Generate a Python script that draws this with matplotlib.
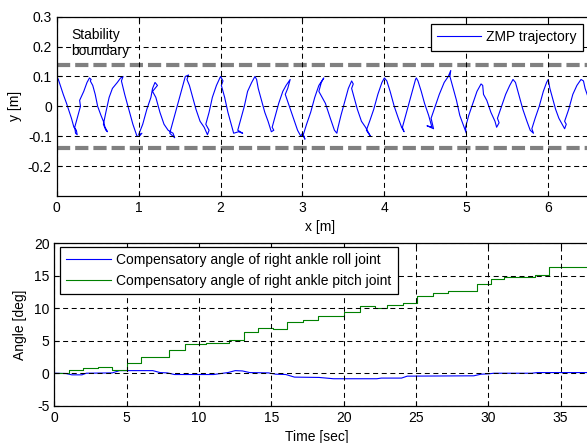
import matplotlib
matplotlib.use("Agg")
import matplotlib.pyplot as plt

plt.rcParams['font.family'] = ['Liberation Sans', 'DejaVu Sans']
plt.rcParams['font.size'] = 10
plt.rcParams['axes.unicode_minus'] = False
plt.rcParams['lines.scale_dashes'] = False

# ZMP trajectory (x [m], y [m])
zmp_x = [0.00, 0.00, 0.02, 0.08, 0.12, 0.18, 0.21, 0.24, 0.25, 0.23, 0.22, 0.26, 0.29, 0.28, 0.33, 0.37,
         0.40, 0.42, 0.41, 0.44, 0.47, 0.50, 0.54, 0.57, 0.59, 0.62, 0.60, 0.57, 0.60, 0.64, 0.68, 0.74,
         0.78, 0.81, 0.79, 0.83, 0.88, 0.93, 0.98, 1.01, 1.04, 1.00, 1.05, 1.10, 1.15, 1.17, 1.20, 1.23,
         1.17, 1.21, 1.26, 1.31, 1.36, 1.42, 1.44, 1.38, 1.41, 1.45, 1.50, 1.54, 1.57, 1.61, 1.59, 1.62,
         1.66, 1.70, 1.75, 1.80, 1.84, 1.86, 1.82, 1.86, 1.90, 1.95, 2.00, 2.03, 2.01, 2.05, 2.09, 2.13,
         2.16, 2.22, 2.27, 2.21, 2.24, 2.29, 2.33, 2.38, 2.42, 2.44, 2.46, 2.50, 2.54, 2.58, 2.62, 2.65,
         2.63, 2.67, 2.71, 2.76, 2.80, 2.85, 2.82, 2.79, 2.84, 2.89, 2.94, 2.98, 3.00, 3.03, 3.01, 3.05,
         3.10, 3.15, 3.20, 3.26, 3.23, 3.20, 3.28, 3.34, 3.39, 3.42, 3.43, 3.47, 3.52, 3.56, 3.60, 3.62,
         3.60, 3.63, 3.67, 3.72, 3.77, 3.80, 3.83, 3.78, 3.82, 3.87, 3.92, 3.97, 4.00, 4.03, 4.07, 4.12,
         4.17, 4.21, 4.24, 4.22, 4.26, 4.30, 4.34, 4.38, 4.39, 4.41, 4.45, 4.49, 4.54, 4.58, 4.52, 4.60,
         4.57, 4.62, 4.67, 4.73, 4.78, 4.81, 4.80, 4.84, 4.88, 4.92, 4.96, 5.00, 4.99, 5.03, 5.08, 5.13,
         5.18, 5.20, 5.21, 5.25, 5.30, 5.35, 5.37, 5.40, 5.38, 5.43, 5.48, 5.53, 5.57, 5.60, 5.64, 5.69,
         5.74, 5.78, 5.82, 5.80, 5.84, 5.89, 5.94, 5.98, 6.00, 6.02, 6.05, 6.09, 6.13, 6.17, 6.20, 6.22,
         6.20, 6.25, 6.30, 6.35, 6.40, 6.43, 6.45, 6.50, 6.55]
zmp_y = [-0.04, 0.10, 0.09, 0.04, 0.01, -0.04, -0.07, -0.08, -0.095, -0.09, -0.07, -0.03, 0.00, 0.02, 0.05, 0.08,
         0.095, 0.09, 0.085, 0.07, 0.04, 0.00, -0.03, -0.05, -0.07, -0.085, -0.08, -0.06, -0.02, 0.03, 0.06, 0.08,
         0.095, 0.10, 0.085, 0.04, -0.01, -0.06, -0.10, -0.10, -0.09, -0.095, -0.06, -0.01, 0.03, 0.06, 0.08, 0.07,
         0.05, 0.03, -0.02, -0.06, -0.08, -0.09, -0.105, -0.09, -0.06, -0.02, 0.03, 0.07, 0.10, 0.105, 0.09, 0.07,
         0.03, -0.01, -0.05, -0.07, -0.095, -0.08, -0.06, -0.02, 0.03, 0.07, 0.10, 0.085, 0.07, 0.03, -0.02, -0.06,
         -0.09, -0.085, -0.09, -0.08, -0.05, 0.00, 0.05, 0.08, 0.10, 0.09, 0.06, 0.02, -0.02, -0.05, -0.085, -0.08,
         -0.07, -0.03, 0.01, 0.05, 0.07, 0.09, 0.06, 0.04, 0.00, -0.04, -0.08, -0.10, -0.09, -0.11, -0.095, -0.06,
         -0.02, 0.03, 0.07, 0.095, 0.08, 0.05, 0.01, -0.04, -0.08, -0.09, -0.075, -0.03, 0.02, 0.06, 0.085, 0.075,
         0.06, 0.03, -0.01, -0.05, -0.07, -0.085, -0.10, -0.08, -0.05, -0.01, 0.04, 0.08, 0.095, 0.085, 0.05, 0.00,
         -0.04, -0.07, -0.085, -0.07, -0.03, 0.01, 0.05, 0.09, 0.095, 0.085, 0.05, 0.01, -0.03, -0.07, -0.065, -0.075,
         -0.04, 0.00, 0.04, 0.08, 0.10, 0.12, 0.10, 0.06, 0.02, -0.03, -0.06, -0.09, -0.07, -0.03, 0.01, 0.05,
         0.075, 0.07, 0.04, 0.02, -0.02, -0.05, -0.07, -0.055, -0.04, 0.00, 0.04, 0.07, 0.09, 0.08, 0.04, -0.01,
         -0.05, -0.08, -0.09, -0.075, -0.04, 0.00, 0.05, 0.08, 0.09, 0.06, 0.03, -0.01, -0.04, -0.06, -0.075, -0.06,
         -0.05, -0.01, 0.04, 0.07, 0.09, 0.085, 0.06, 0.02, -0.02]

boundary_upper = 0.137
boundary_lower = -0.14

# compensatory angles [deg] vs time [sec]
roll_t = [0, 0.8, 1.2, 1.9, 2.2, 4.0, 4.5, 6.8, 7.3, 7.8, 8.3, 11.0, 11.5, 12.0, 12.5, 13.0, 13.5,
          14.8, 15.3, 16.0, 16.6, 18.3, 19.3, 22.3, 22.6, 24.0, 24.4, 29.0, 29.5, 30.0, 30.4, 33.0, 33.4, 38]
roll_deg = [0.0, -0.05, -0.25, -0.25, 0.0, 0.05, 0.4, 0.4, 0.1, 0.05, -0.2, -0.2, -0.05, 0.1, 0.4, 0.35, 0.1,
            0.05, -0.15, -0.2, -0.6, -0.65, -0.85, -0.85, -0.75, -0.75, -0.45, -0.4, -0.15, -0.1, 0.0, 0.0, 0.1, 0.1]

pitch_t = [0, 1.0, 2.0, 3.0, 4.0, 5.0, 6.0, 7.9, 9.0, 10.5, 12.1, 13.1, 14.1, 15.1, 16.1, 17.2, 18.2,
           20.0, 21.1, 22.2, 23.0, 24.1, 25.1, 26.2, 27.2, 29.2, 30.2, 31.1, 33.2, 34.2, 38]
pitch_deg = [0.0, 0.5, 0.75, 0.95, 0.55, 1.6, 2.5, 3.5, 4.5, 4.6, 5.1, 6.3, 6.9, 6.75, 7.9, 8.2, 8.8,
             9.4, 10.4, 10.1, 10.5, 10.8, 11.9, 12.4, 12.6, 13.8, 14.5, 14.8, 15.1, 16.3, 16.3]

grid_dash = (0, (3.6, 2.6))

fig = plt.figure(figsize=(5.87, 4.43), dpi=100)

# --- ZMP plot ---
ax1 = fig.add_axes([0.0966, 0.5576, 0.9211, 0.4047])
ax1.plot(zmp_x, zmp_y, color='#0000ff', lw=0.8, label='ZMP trajectory')
for yb in (boundary_upper, boundary_lower):
    ax1.axhline(yb, color='#808080', lw=3.0, linestyle=(0, (9.5, 3.6)), zorder=1)
ax1.set_xlim(0, 6.6)
ax1.set_ylim(-0.3, 0.3)
ax1.set_xticks(range(7))
ax1.set_yticks([-0.2, -0.1, 0, 0.1, 0.2, 0.3])
ax1.set_yticklabels(['-0.2', '-0.1', '0', '0.1', '0.2', '0.3'])
ax1.grid(True, color='black', lw=0.75, linestyle=grid_dash)
ax1.set_xlabel('x [m]')
ax1.set_ylabel('y [m]')
ax1.xaxis.label.set_x(0.487)
ax1.text(0.18, 0.212, 'Stability\nboundary', va='center', ha='left', linespacing=1.15)
leg1 = ax1.legend(loc='upper right', bbox_to_anchor=(583 / 587, 1 - 24 / 443),
                  bbox_transform=fig.transFigure, borderaxespad=0, fancybox=False,
                  edgecolor='black', framealpha=1, handlelength=3.15, handletextpad=0.4,
                  borderpad=0.45)
leg1.get_frame().set_linewidth(0.9)

# --- joint angle plot ---
ax2 = fig.add_axes([0.0928, 0.0842, 0.936, 0.3666])
ax2.plot(roll_t, roll_deg, color='#0000ff', lw=0.8,
         label='Compensatory angle of right ankle roll joint')
ax2.plot(pitch_t, pitch_deg, color='#008000', lw=0.8, drawstyle='steps-post',
         label='Compensatory angle of right ankle pitch joint')
ax2.set_xlim(0, 38)
ax2.set_ylim(-5, 20)
ax2.set_xticks(range(0, 40, 5))
ax2.set_yticks(range(-5, 25, 5))
ax2.grid(True, color='black', lw=0.75, linestyle=grid_dash)
ax2.set_xlabel('Time [sec]')
ax2.set_ylabel('Angle [deg]', labelpad=5)
ax2.xaxis.label.set_x(0.478)
leg2 = ax2.legend(loc='upper left', bbox_to_anchor=(60 / 587, 1 - 247 / 443),
                  bbox_transform=fig.transFigure, borderaxespad=0, fancybox=False,
                  edgecolor='black', framealpha=1, handlelength=3.2, handletextpad=0.4,
                  borderpad=0.45, labelspacing=0.5)
leg2.get_frame().set_linewidth(0.9)

for ax in (ax1, ax2):
    ax.set_axisbelow(False)
    ax.tick_params(direction='in', length=3.5, width=0.8, top=True, right=True, colors='black')
    for sp in ax.spines.values():
        sp.set_linewidth(0.9)

fig.savefig('out.png', dpi=100)
